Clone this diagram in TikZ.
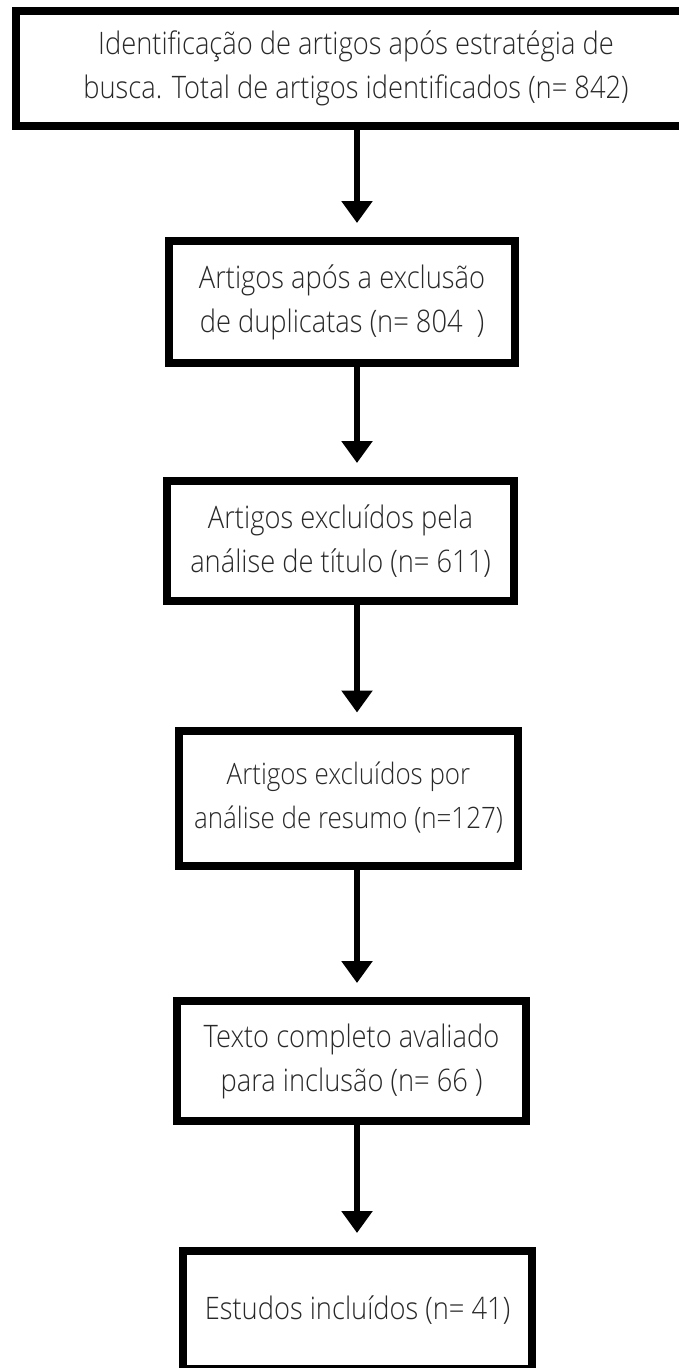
\documentclass[tikz,border=0pt]{standalone}
\usepackage{fontspec}
\setmainfont{Open Sans Light}
\newfontfamily\boxfont{Open Sans Light}[FakeStretch=0.88]
\usetikzlibrary{arrows.meta}
\definecolor{txt}{RGB}{40,40,40}
\tikzset{
  flowbox/.style={draw=black, line width=8pt, fill=white, inner sep=0pt,
    align=center, text=txt, font=\boxfont\fontsize{31}{44}\selectfont},
  arr/.style={line width=6pt, -{Triangle[width=30pt,length=22pt]}, shorten >=14pt}
}
\begin{document}
\begin{tikzpicture}[x=1pt,y=-1pt]
\useasboundingbox (0,0) rectangle (678,1368);
\fill[white] (0,0) rectangle (678,1368);
\coordinate (ax) at (357,0);
\node[flowbox, minimum width=680pt, minimum height=115pt] (b1) at (356,68.5)
  {Identificação de artigos após estratégia de\\busca. Total de artigos identificados (n= 842)};
\node[flowbox, minimum width=346pt, minimum height=122pt] (b2) at (342,302)
  {Artigos após a exclusão\\de duplicatas (n= 804~~)};
\node[flowbox, minimum width=347pt, minimum height=120pt] (b3) at (340.5,541)
  {Artigos excluídos pela\\análise de título (n= 611)};
\node[flowbox, minimum width=339pt, minimum height=135pt,
  font=\boxfont\fontsize{29.5}{44}\selectfont] (b4) at (348.5,798)
  {Artigos excluídos por\\análise de resumo (n=127)};
\node[flowbox, minimum width=349pt, minimum height=120pt] (b5) at (351.5,1061)
  {Texto completo avaliado\\para inclusão (n= 66 )};
\node[flowbox, minimum width=349pt, minimum height=118pt] (b6) at (357.5,1310)
  {Estudos incluídos (n= 41)};
\draw[arr] (b1.south -| ax) -- (b2.north -| ax);
\draw[arr] (b2.south -| ax) -- (b3.north -| ax);
\draw[arr] (b3.south -| ax) -- (b4.north -| ax);
\draw[arr] (b4.south -| ax) -- (b5.north -| ax);
\draw[arr] (b5.south -| ax) -- (b6.north -| ax);
\end{tikzpicture}
\end{document}
